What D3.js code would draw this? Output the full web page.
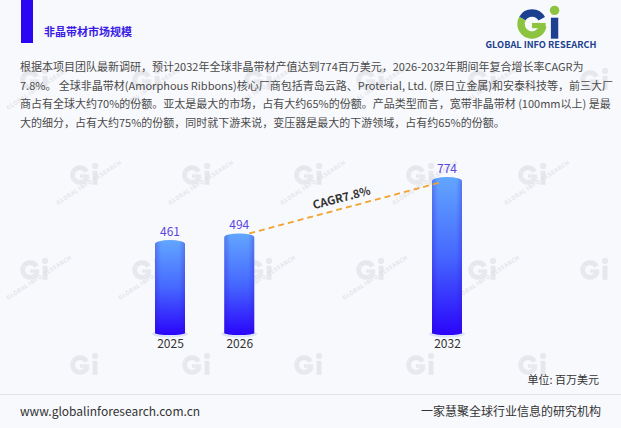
<!DOCTYPE html>
<html><head><meta charset="utf-8">
<script src="https://cdn.jsdelivr.net/npm/d3@7/dist/d3.min.js"></script>
<style>
html,body{margin:0;padding:0;background:#f8f9fd;}
svg{display:block;}
text{font-family:"Microsoft YaHei","Noto Sans CJK SC","Noto Sans",sans-serif;}
</style></head>
<body>
<svg id="chart" width="621" height="428"></svg>
<script>
// ---- data ----
const categories = ["2025", "2026", "2032"];
const values = [461, 494, 774];
const cagrLabel = "CAGR7.8%";
const cagrFrom = "2026";
const cagrTo = "2032";
const titleText = "非晶带材市场规模";
const paragraphLines = [
  "根据本项目团队最新调研，预计2032年全球非晶带材产值达到774百万美元，2026-2032年期间年复合增长率CAGR为",
  "7.8%。 全球非晶带材(Amorphous Ribbons)核心厂商包括青岛云路、Proterial, Ltd. (原日立金属)和安泰科技等，前三大厂",
  "商占有全球大约70%的份额。亚太是最大的市场，占有大约65%的份额。产品类型而言，宽带非晶带材 (100mm以上) 是最",
  "大的细分，占有大约75%的份额，同时就下游来说，变压器是最大的下游领域，占有约65%的份额。"
];
const unitText = "单位: 百万美元";
const footerLeft = "www.globalinforesearch.com.cn";
const footerRight = "一家慧聚全球行业信息的研究机构";
const logoText = "GLOBAL INFO RESEARCH";

// ---- layout ----
const W = 621, H = 428;
const svg = d3.select("#chart");
const defs = svg.append("defs");
svg.append("rect").attr("width", W).attr("height", H).attr("fill", "#f8f9fd");

function drawGi(g, x, y, s, c1, c2) {
  const arc = d3.arc().innerRadius(7 * s).outerRadius(14 * s);
  const deg = Math.PI / 180;
  g.append("path").attr("transform", `translate(${x},${y})`)
    .attr("d", arc({startAngle: 100 * deg, endAngle: 300 * deg})).attr("fill", c2);
  g.append("path").attr("transform", `translate(${x},${y})`)
    .attr("d", arc({startAngle: -60 * deg, endAngle: 62 * deg})).attr("fill", c1);
  g.append("rect").attr("x", x).attr("y", y - 1 * s).attr("width", 13 * s).attr("height", 5 * s).attr("fill", c2);
  g.append("rect").attr("x", x + 18 * s).attr("y", y - 6 * s).attr("width", 7 * s).attr("height", 20 * s).attr("fill", c1);
  g.append("circle").attr("cx", x + 21.5 * s).attr("cy", y - 13 * s).attr("r", 4.5 * s).attr("fill", c2);
}

// watermarks (decorative tiling)
const wm = svg.append("g");
for (let r = 0; r < 4; r++) {
  const y = 80 + 95 * r;
  const off = (r % 2 === 0) ? -50 : 0;
  for (let c = -1; c < 6; c++) {
    const x = 80 + 112 * c + off;
    if (x < -10 || x > 640) continue;
    drawGi(wm, x, y, 0.7, "#e6e7ec", "#e8e9ee");
    if (x - 24 > 2 && x + 50 < 615 && y + 30 < 392) {
      wm.append("text").attr("transform", `translate(${x - 22},${y + 30}) rotate(-33)`)
        .attr("font-size", 5.5).attr("font-weight", 700).attr("fill", "#e3e4e9")
        .attr("letter-spacing", 0.5).text(logoText);
    }
  }
}

// header
svg.append("rect").attr("x", 21).attr("y", 0).attr("width", 12).attr("height", 43).attr("fill", "#2a06f5");
svg.append("text").attr("x", 44).attr("y", 36).attr("font-size", 11).attr("font-weight", 700)
  .attr("fill", "#3b1ce6").text(titleText);

// logo
const logo = svg.append("g");
drawGi(logo, 532, 24, 1.05, "#1c3f8f", "#8cc43f");
logo.append("text").attr("x", 541).attr("y", 48).attr("text-anchor", "middle")
  .attr("font-size", 9.2).attr("font-weight", 700).attr("fill", "#1c3f8f")
  .attr("font-family", "Roboto, 'DejaVu Sans', sans-serif").text(logoText);

// paragraph
const para = svg.append("text").attr("font-size", 11).attr("fill", "#4a4a4a");
paragraphLines.forEach((l, i) => {
  para.append("tspan").attr("x", 20).attr("y", 71 + i * 18.5).text(l);
});

// scales
const slotDomain = ["2025", "2026", "s1", "s2", "2032"];
const x = d3.scalePoint().domain(slotDomain).range([170, 447]);
const y = d3.scaleLinear().domain([0, 900]).range([333, 151.6]);
const bw = 30, cap = 4;

const grad = defs.append("linearGradient").attr("id", "barGrad").attr("x1", 0).attr("y1", 0).attr("x2", 0).attr("y2", 1);
grad.append("stop").attr("offset", "0%").attr("stop-color", "#62a6ff");
grad.append("stop").attr("offset", "50%").attr("stop-color", "#4668ff");
grad.append("stop").attr("offset", "100%").attr("stop-color", "#2a05fb");
const side = defs.append("linearGradient").attr("id", "sideGrad").attr("x1", 0).attr("y1", 0).attr("x2", 1).attr("y2", 0);
side.append("stop").attr("offset", "0%").attr("stop-color", "#3000c0").attr("stop-opacity", 0.25);
side.append("stop").attr("offset", "20%").attr("stop-color", "#3000c0").attr("stop-opacity", 0);
side.append("stop").attr("offset", "80%").attr("stop-color", "#3000c0").attr("stop-opacity", 0);
side.append("stop").attr("offset", "100%").attr("stop-color", "#3000c0").attr("stop-opacity", 0.25);

const data = categories.map((c, i) => ({c, v: values[i]}));
const bars = svg.append("g");
bars.selectAll("ellipse.base").data(data).join("ellipse").attr("class", "base")
  .attr("cx", d => x(d.c)).attr("cy", y(0) + 1).attr("rx", bw / 2 + 3).attr("ry", 3.5)
  .attr("fill", "#dbe3f6");
function barPath(d) {
  const x0 = x(d.c) - bw / 2, x1 = x(d.c) + bw / 2, yt = y(d.v), yb = y(0);
  return `M${x0},${yb} L${x0},${yt + cap} A${bw / 2},${cap} 0 0 1 ${x1},${yt + cap} L${x1},${yb} A${bw / 2},2 0 0 1 ${x0},${yb} Z`;
}
bars.selectAll("path.bar").data(data).join("path").attr("class", "bar").attr("d", barPath).attr("fill", "url(#barGrad)");
bars.selectAll("path.shade").data(data).join("path").attr("class", "shade").attr("d", barPath).attr("fill", "url(#sideGrad)");

// value labels
svg.append("g").selectAll("text").data(data).join("text")
  .attr("x", d => x(d.c)).attr("y", d => y(d.v) - 4).attr("text-anchor", "middle")
  .attr("font-size", 12).attr("fill", "#5a45e0").text(d => d.v);

// x axis labels
const xAxis = d3.axisBottom(x).tickValues(categories).tickSize(0).tickPadding(6);
const gx = svg.append("g").attr("transform", `translate(0,${y(0)})`).call(xAxis);
gx.select(".domain").remove();
gx.selectAll("text").attr("font-size", 12).attr("fill", "#333")
  .attr("font-family", "'Microsoft YaHei','Noto Sans CJK SC','Noto Sans',sans-serif");

// CAGR line
const vFrom = values[categories.indexOf(cagrFrom)], vTo = values[categories.indexOf(cagrTo)];
const p0 = [x(cagrFrom) + 10, y(vFrom)], p1 = [x(cagrTo) - 5, y(vTo) + 5];
svg.append("line").attr("x1", p0[0]).attr("y1", p0[1]).attr("x2", p1[0]).attr("y2", p1[1])
  .attr("stroke", "#f0a32e").attr("stroke-width", 1.8).attr("stroke-dasharray", "6,4");
const ang = Math.atan2(p1[1] - p0[1], p1[0] - p0[0]) * 180 / Math.PI;
const mx = (p0[0] + p1[0]) / 2 - 3, my = (p0[1] + p1[1]) / 2 - 6;
svg.append("text").attr("transform", `translate(${mx},${my}) rotate(${ang})`).attr("text-anchor", "middle")
  .attr("font-size", 11.5).attr("font-weight", 700).attr("fill", "#333").text(cagrLabel);

// unit
svg.append("text").attr("x", 599).attr("y", 384).attr("text-anchor", "end").attr("font-size", 11)
  .attr("fill", "#333").text(unitText);

// footer
svg.append("line").attr("x1", 0).attr("x2", W).attr("y1", 394.5).attr("y2", 394.5).attr("stroke", "#e3e4ea");
svg.append("text").attr("x", 20).attr("y", 416).attr("font-size", 12).attr("fill", "#333").text(footerLeft);
svg.append("text").attr("x", 601).attr("y", 416).attr("text-anchor", "end").attr("font-size", 12).attr("fill", "#333").text(footerRight);
</script>
</body></html>
